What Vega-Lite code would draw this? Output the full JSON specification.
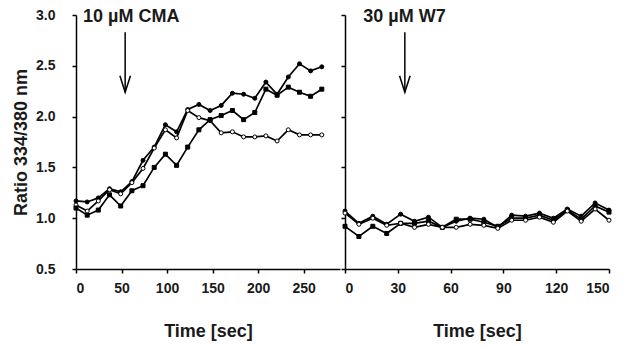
{
  "$schema": "https://vega.github.io/schema/vega-lite/v6.json",
  "background": "white",
  "padding": {"left": 12, "top": 7, "right": 5, "bottom": 5},
  "spacing": 0,
  "config": {
    "view": {"stroke": null},
    "font": "Liberation Sans",
    "axis": {
      "grid": false,
      "labelFont": "Liberation Sans",
      "labelFontWeight": "bold",
      "labelFontSize": 14,
      "labelColor": "#1a1a1a",
      "titleFont": "Liberation Sans",
      "titleFontWeight": "bold",
      "titleFontSize": 18,
      "titleColor": "#1a1a1a",
      "domainColor": "black",
      "domainWidth": 1.5,
      "tickColor": "black",
      "tickWidth": 1.5,
      "tickSize": 4
    }
  },
  "datasets": {
    "cma": [
      {"s":"A","t":0,"v":1.17},{"s":"A","t":12.3,"v":1.16},{"s":"A","t":24.5,"v":1.20},{"s":"A","t":36.8,"v":1.29},{"s":"A","t":49.1,"v":1.26},{"s":"A","t":61.4,"v":1.36},{"s":"A","t":73.6,"v":1.57},{"s":"A","t":85.9,"v":1.70},{"s":"A","t":98.2,"v":1.92},{"s":"A","t":110.5,"v":1.85},{"s":"A","t":122.7,"v":2.07},{"s":"A","t":135,"v":2.12},{"s":"A","t":147.3,"v":2.06},{"s":"A","t":159.5,"v":2.11},{"s":"A","t":171.8,"v":2.23},{"s":"A","t":184.1,"v":2.22},{"s":"A","t":196.4,"v":2.18},{"s":"A","t":208.6,"v":2.34},{"s":"A","t":220.9,"v":2.22},{"s":"A","t":233.2,"v":2.39},{"s":"A","t":245.5,"v":2.52},{"s":"A","t":257.7,"v":2.45},{"s":"A","t":270,"v":2.49},
      {"s":"B","t":0,"v":1.13},{"s":"B","t":12.3,"v":1.07},{"s":"B","t":24.5,"v":1.17},{"s":"B","t":36.8,"v":1.28},{"s":"B","t":49.1,"v":1.24},{"s":"B","t":61.4,"v":1.35},{"s":"B","t":73.6,"v":1.49},{"s":"B","t":85.9,"v":1.69},{"s":"B","t":98.2,"v":1.87},{"s":"B","t":110.5,"v":1.79},{"s":"B","t":122.7,"v":2.06},{"s":"B","t":135,"v":1.99},{"s":"B","t":147.3,"v":1.96},{"s":"B","t":159.5,"v":1.84},{"s":"B","t":171.8,"v":1.85},{"s":"B","t":184.1,"v":1.80},{"s":"B","t":196.4,"v":1.80},{"s":"B","t":208.6,"v":1.81},{"s":"B","t":220.9,"v":1.76},{"s":"B","t":233.2,"v":1.87},{"s":"B","t":245.5,"v":1.82},{"s":"B","t":257.7,"v":1.82},{"s":"B","t":270,"v":1.82},
      {"s":"C","t":0,"v":1.10},{"s":"C","t":12.3,"v":1.03},{"s":"C","t":24.5,"v":1.08},{"s":"C","t":36.8,"v":1.23},{"s":"C","t":49.1,"v":1.12},{"s":"C","t":61.4,"v":1.27},{"s":"C","t":73.6,"v":1.32},{"s":"C","t":85.9,"v":1.50},{"s":"C","t":98.2,"v":1.63},{"s":"C","t":110.5,"v":1.52},{"s":"C","t":122.7,"v":1.70},{"s":"C","t":135,"v":1.87},{"s":"C","t":147.3,"v":1.97},{"s":"C","t":159.5,"v":2.01},{"s":"C","t":171.8,"v":2.06},{"s":"C","t":184.1,"v":1.97},{"s":"C","t":196.4,"v":2.04},{"s":"C","t":208.6,"v":2.27},{"s":"C","t":220.9,"v":2.21},{"s":"C","t":233.2,"v":2.29},{"s":"C","t":245.5,"v":2.24},{"s":"C","t":257.7,"v":2.20},{"s":"C","t":270,"v":2.27}
    ],
    "w7": [
      {"s":"A","t":0,"v":1.07},{"s":"A","t":7.9,"v":0.95},{"s":"A","t":15.8,"v":1.02},{"s":"A","t":23.7,"v":0.94},{"s":"A","t":31.6,"v":1.04},{"s":"A","t":39.5,"v":0.97},{"s":"A","t":47.4,"v":1.01},{"s":"A","t":55.3,"v":0.91},{"s":"A","t":63.2,"v":0.97},{"s":"A","t":71.1,"v":1.00},{"s":"A","t":78.9,"v":0.99},{"s":"A","t":86.8,"v":0.91},{"s":"A","t":94.7,"v":1.03},{"s":"A","t":102.6,"v":1.02},{"s":"A","t":110.5,"v":1.05},{"s":"A","t":118.4,"v":1.00},{"s":"A","t":126.3,"v":1.09},{"s":"A","t":134.2,"v":1.02},{"s":"A","t":142.1,"v":1.15},{"s":"A","t":150,"v":1.08},
      {"s":"C","t":0,"v":0.92},{"s":"C","t":7.9,"v":0.82},{"s":"C","t":15.8,"v":0.92},{"s":"C","t":23.7,"v":0.85},{"s":"C","t":31.6,"v":0.95},{"s":"C","t":39.5,"v":0.95},{"s":"C","t":47.4,"v":0.97},{"s":"C","t":55.3,"v":0.91},{"s":"C","t":63.2,"v":0.99},{"s":"C","t":71.1,"v":0.99},{"s":"C","t":78.9,"v":0.96},{"s":"C","t":86.8,"v":0.92},{"s":"C","t":94.7,"v":1.00},{"s":"C","t":102.6,"v":1.00},{"s":"C","t":110.5,"v":1.03},{"s":"C","t":118.4,"v":0.98},{"s":"C","t":126.3,"v":1.08},{"s":"C","t":134.2,"v":0.99},{"s":"C","t":142.1,"v":1.12},{"s":"C","t":150,"v":1.06},
      {"s":"B","t":0,"v":1.05},{"s":"B","t":7.9,"v":0.94},{"s":"B","t":15.8,"v":1.00},{"s":"B","t":23.7,"v":0.93},{"s":"B","t":31.6,"v":0.95},{"s":"B","t":39.5,"v":0.91},{"s":"B","t":47.4,"v":0.94},{"s":"B","t":55.3,"v":0.91},{"s":"B","t":63.2,"v":0.91},{"s":"B","t":71.1,"v":0.94},{"s":"B","t":78.9,"v":0.93},{"s":"B","t":86.8,"v":0.90},{"s":"B","t":94.7,"v":0.98},{"s":"B","t":102.6,"v":0.98},{"s":"B","t":110.5,"v":1.01},{"s":"B","t":118.4,"v":0.96},{"s":"B","t":126.3,"v":1.07},{"s":"B","t":134.2,"v":0.97},{"s":"B","t":142.1,"v":1.09},{"s":"B","t":150,"v":0.98}
    ],
    "notes": [
      {"panel":"cma","label":"10 µM CMA","tx":7.7,"ty":2.985,"ax":54,"a1":2.83,"a2":2.24},
      {"panel":"w7","label":"30 µM W7","tx":10.4,"ty":2.985,"ax":34,"a1":2.83,"a2":2.24}
    ]
  },
  "hconcat": [
    {
      "width": 264,
      "height": 254,
      "encoding": {
        "x": {"type": "quantitative", "scale": {"domain": [0, 290], "nice": false, "zero": false},
              "axis": {"values": [0, 50, 100, 150, 200, 250], "title": "Time [sec]", "labelPadding": 8, "titlePadding": 27}},
        "y": {"type": "quantitative", "scale": {"domain": [0.5, 3.0], "nice": false, "zero": false},
              "axis": {"values": [0.5, 1, 1.5, 2, 2.5, 3], "format": ".1f", "title": "Ratio 334/380 nm", "labelPadding": 17, "titlePadding": 5}}
      },
      "layer": [
        {"data": {"name": "cma"}, "mark": {"type": "line", "color": "black", "strokeWidth": 1.7},
         "encoding": {"x": {"field": "t"}, "y": {"field": "v"}, "detail": {"field": "s"}}},
        {"data": {"name": "cma"}, "mark": {"type": "point", "filled": true, "stroke": "black", "strokeWidth": 1, "opacity": 1, "size": 16},
         "encoding": {"x": {"field": "t"}, "y": {"field": "v"},
           "shape": {"field": "s", "scale": {"domain": ["A", "B", "C"], "range": ["circle", "circle", "square"]}, "legend": null},
           "fill": {"field": "s", "scale": {"domain": ["A", "B", "C"], "range": ["black", "white", "black"]}, "legend": null}}},
        {"data": {"name": "notes"}, "transform": [{"filter": "datum.panel == 'cma'"}],
         "mark": {"type": "text", "align": "left", "baseline": "middle", "fontSize": 18, "fontWeight": "bold", "font": "Liberation Sans", "color": "#1a1a1a"},
         "encoding": {"x": {"field": "tx"}, "y": {"field": "ty"}, "text": {"field": "label"}}},
        {"data": {"name": "notes"}, "transform": [{"filter": "datum.panel == 'cma'"}],
         "mark": {"type": "rule", "color": "black", "strokeWidth": 1.5},
         "encoding": {"x": {"field": "ax"}, "y": {"field": "a1"}, "y2": {"field": "a2"}}},
        {"data": {"name": "notes"}, "transform": [{"filter": "datum.panel == 'cma'"}],
         "mark": {"type": "point", "shape": "M-0.32,-1L0,0L0.32,-1", "filled": false, "stroke": "black", "strokeWidth": 1.5, "opacity": 1, "size": 1089},
         "encoding": {"x": {"field": "ax"}, "y": {"field": "a2"}}}
      ]
    },
    {
      "width": 264,
      "height": 254,
      "encoding": {
        "x": {"type": "quantitative", "scale": {"domain": [0, 150], "nice": false, "zero": false},
              "axis": {"values": [0, 30, 60, 90, 120, 150], "title": "Time [sec]", "labelPadding": 8, "titlePadding": 27}},
        "y": {"type": "quantitative", "scale": {"domain": [0.5, 3.0], "nice": false, "zero": false},
              "axis": {"values": [0.5, 1, 1.5, 2, 2.5, 3], "labels": false, "title": null}}
      },
      "layer": [
        {"data": {"name": "w7"}, "mark": {"type": "line", "color": "black", "strokeWidth": 1.7},
         "encoding": {"x": {"field": "t"}, "y": {"field": "v"}, "detail": {"field": "s"}}},
        {"data": {"name": "w7"}, "mark": {"type": "point", "filled": true, "stroke": "black", "strokeWidth": 1, "opacity": 1, "size": 16},
         "encoding": {"x": {"field": "t"}, "y": {"field": "v"},
           "shape": {"field": "s", "scale": {"domain": ["A", "B", "C"], "range": ["circle", "circle", "square"]}, "legend": null},
           "fill": {"field": "s", "scale": {"domain": ["A", "B", "C"], "range": ["black", "white", "black"]}, "legend": null}}},
        {"data": {"name": "notes"}, "transform": [{"filter": "datum.panel == 'w7'"}],
         "mark": {"type": "text", "align": "left", "baseline": "middle", "fontSize": 18, "fontWeight": "bold", "font": "Liberation Sans", "color": "#1a1a1a"},
         "encoding": {"x": {"field": "tx"}, "y": {"field": "ty"}, "text": {"field": "label"}}},
        {"data": {"name": "notes"}, "transform": [{"filter": "datum.panel == 'w7'"}],
         "mark": {"type": "rule", "color": "black", "strokeWidth": 1.5},
         "encoding": {"x": {"field": "ax"}, "y": {"field": "a1"}, "y2": {"field": "a2"}}},
        {"data": {"name": "notes"}, "transform": [{"filter": "datum.panel == 'w7'"}],
         "mark": {"type": "point", "shape": "M-0.32,-1L0,0L0.32,-1", "filled": false, "stroke": "black", "strokeWidth": 1.5, "opacity": 1, "size": 1089},
         "encoding": {"x": {"field": "ax"}, "y": {"field": "a2"}}}
      ]
    }
  ]
}
